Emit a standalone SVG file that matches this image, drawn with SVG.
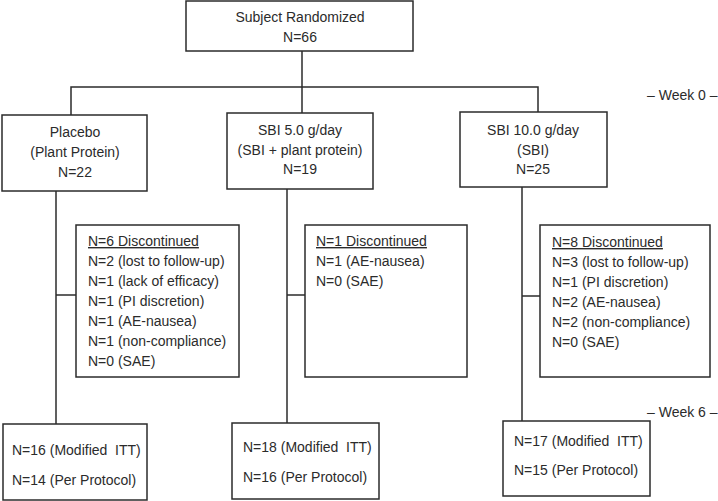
<svg xmlns="http://www.w3.org/2000/svg" width="718" height="501" viewBox="0 0 718 501">
<style>
rect{fill:#fff;stroke:#2b2b2b;stroke-width:1.5}
line,polyline{fill:none;stroke:#2b2b2b;stroke-width:1.5}
text{font-family:"Liberation Sans",Arial,sans-serif;font-size:14px;fill:#2b2b2b}
.c{text-anchor:middle}
</style>
<rect width="718" height="501" style="stroke:none"/>
<g id="connectors">
<line x1="302" y1="51" x2="302" y2="113"/>
<polyline points="71,115 71,87 538,87 538,112"/>
<line x1="56" y1="191" x2="56" y2="424"/>
<line x1="56" y1="295" x2="76" y2="295"/>
<line x1="287" y1="189" x2="287" y2="423"/>
<line x1="287" y1="295" x2="305" y2="295"/>
<line x1="522" y1="187" x2="522" y2="421"/>
<line x1="522" y1="296" x2="540" y2="296"/>
</g>
<g id="randomized">
<rect x="186" y="1" width="227" height="50"/>
<text class="c" x="300" y="22">Subject Randomized</text>
<text class="c" x="300" y="42">N=66</text>
</g>
<g id="placebo">
<rect x="2" y="115" width="145" height="76"/>
<text class="c" x="75" y="137">Placebo</text>
<text class="c" x="75" y="157">(Plant Protein)</text>
<text class="c" x="75" y="177">N=22</text>
</g>
<g id="sbi5">
<rect x="227" y="113" width="146" height="76"/>
<text class="c" x="300" y="135">SBI 5.0 g/day</text>
<text class="c" x="300" y="155">(SBI + plant protein)</text>
<text class="c" x="300" y="174">N=19</text>
</g>
<g id="sbi10">
<rect x="460" y="112" width="147" height="75"/>
<text class="c" x="533" y="135">SBI 10.0 g/day</text>
<text class="c" x="533" y="155">(SBI)</text>
<text class="c" x="533" y="174">N=25</text>
</g>
<g id="week0"><text x="647" y="100">– Week 0 –</text></g>
<g id="disc-placebo">
<rect x="76" y="225" width="163" height="152"/>
<text x="88" y="246" text-decoration="underline">N=6 Discontinued</text>
<text x="88" y="266">N=2 (lost to follow-up)</text>
<text x="88" y="286">N=1 (lack of efficacy)</text>
<text x="88" y="306">N=1 (PI discretion)</text>
<text x="88" y="326">N=1 (AE-nausea)</text>
<text x="88" y="346">N=1 (non-compliance)</text>
<text x="88" y="366">N=0 (SAE)</text>
</g>
<g id="disc-sbi5">
<rect x="305" y="225" width="162" height="152"/>
<text x="316" y="246" text-decoration="underline">N=1 Discontinued</text>
<text x="316" y="266">N=1 (AE-nausea)</text>
<text x="316" y="286">N=0 (SAE)</text>
</g>
<g id="disc-sbi10">
<rect x="540" y="225" width="170" height="152"/>
<text x="552" y="247" text-decoration="underline">N=8 Discontinued</text>
<text x="552" y="267">N=3 (lost to follow-up)</text>
<text x="552" y="287">N=1 (PI discretion)</text>
<text x="552" y="307">N=2 (AE-nausea)</text>
<text x="552" y="327">N=2 (non-compliance)</text>
<text x="552" y="347">N=0 (SAE)</text>
</g>
<g id="week6"><text x="647" y="417">– Week 6 –</text></g>
<g id="final-placebo">
<rect x="3" y="424" width="144" height="76"/>
<text x="12" y="455" xml:space="preserve">N=16 (Modified  ITT)</text>
<text x="12" y="485">N=14 (Per Protocol)</text>
</g>
<g id="final-sbi5">
<rect x="232" y="423" width="147" height="76"/>
<text x="243" y="452" xml:space="preserve">N=18 (Modified  ITT)</text>
<text x="243" y="482">N=16 (Per Protocol)</text>
</g>
<g id="final-sbi10">
<rect x="503" y="421" width="147" height="75"/>
<text x="514" y="446" xml:space="preserve">N=17 (Modified  ITT)</text>
<text x="514" y="475">N=15 (Per Protocol)</text>
</g>
</svg>
